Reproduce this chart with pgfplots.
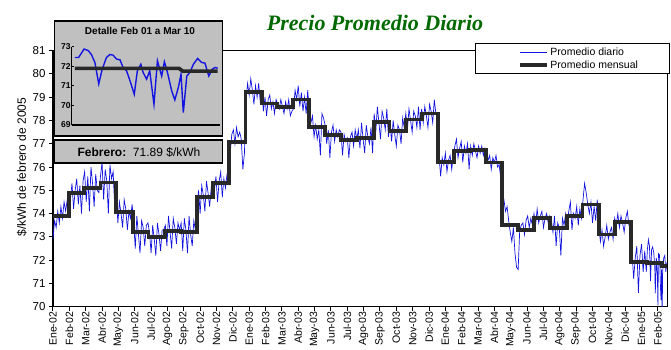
\documentclass[border=0pt]{standalone}
\usepackage{pgfplots}
\pgfplotsset{compat=1.18}
\usepackage{fontspec}
\setmainfont{Liberation Sans}
\newfontfamily\titlefont{Liberation Serif}
\definecolor{dailyblue}{RGB}{20,20,225}
\definecolor{monthgray}{RGB}{40,40,40}
\definecolor{boxgray}{RGB}{192,192,192}
\definecolor{titlegreen}{RGB}{0,105,0}
\begin{document}
\begin{tikzpicture}
\useasboundingbox (-53pt,-42.3pt) rectangle (618pt,306.7pt);
\begin{axis}[
  at={(0pt,0pt)}, anchor=south west,
  scale only axis, width=614.4pt, height=256pt,
  xmin=0, xmax=1165, ymin=70, ymax=81,
  xtick={0,31,...,1147},
  xticklabels={Ene-02,Feb-02,Mar-02,Abr-02,May-02,Jun-02,Jul-02,Ago-02,Sep-02,Oct-02,Nov-02,Dic-02,
               Ene-03,Feb-03,Mar-03,Abr-03,May-03,Jun-03,Jul-03,Ago-03,Sep-03,Oct-03,Nov-03,Dic-03,
               Ene-04,Feb-04,Mar-04,Abr-04,May-04,Jun-04,Jul-04,Ago-04,Sep-04,Oct-04,Nov-04,Dic-04,
               Ene-05,Feb-05},
  ytick={70,71,...,81},
  tick align=outside, tick pos=left,
  major tick length=4pt,
  every tick/.style={black, line width=1pt},
  axis line style={line width=1.2pt},
  xticklabel style={rotate=90, anchor=east, font=\fontsize{10.5}{12}\selectfont, inner sep=1pt},
  yticklabel style={font=\fontsize{11.5}{13}\selectfont},
  /pgf/number format/assume math mode=true,
  ylabel={\$/kWh de febrero de 2005},
  ylabel style={at={(axis description cs:-0.0505,0.545)}, anchor=center, font=\fontsize{12}{14}\selectfont},
  legend style={at={(axis description cs:1.005,1.03)}, anchor=north east, draw=black, line width=1pt,
                fill=white, font=\fontsize{10.5}{12}\selectfont, inner xsep=30pt, inner ysep=2pt},
  legend cell align=left,
]
\addplot[dailyblue, line width=0.7pt,
  legend image code/.code={\path (-12pt,0pt); \draw[dailyblue, line width=0.7pt] (0pt,0pt) -- (27pt,0pt);}]
coordinates {
(0,72.9)(3,73.7)(6,73.4)(9,74.1)(12,73.6)(15,74.3)(18,73.8)(21,74.5)(24,74.1)(27,74.6)(30,74.0)
(33,74.6)(36,75.3)(39,74.2)(42,75.0)(45,75.5)(48,74.4)(51,75.2)(54,74.0)(57,75.4)
(60,75.8)(63,74.5)(66,75.6)(69,74.1)(72,76.0)(75,75.3)(78,74.3)(81,75.7)(84,75.0)(87,74.9)
(90,75.6)(93,76.2)(96,74.6)(99,75.9)(102,75.4)(105,74.0)(108,76.1)(111,75.5)(114,75.8)(117,74.3)
(120,74.8)(123,73.6)(126,74.5)(129,74.0)(132,73.4)(135,74.6)(138,74.2)(141,73.3)(144,74.1)(147,73.8)(150,74.4)
(153,73.6)(156,72.5)(159,73.9)(162,73.1)(165,72.3)(168,73.7)(171,73.4)(174,72.6)(177,73.5)(180,73.6)
(183,73.2)(186,72.3)(189,73.5)(192,72.9)(195,72.2)(198,73.6)(201,73.1)(204,72.4)(207,73.3)(210,73.3)
(213,73.5)(216,72.6)(219,73.9)(222,73.2)(225,72.5)(228,73.8)(231,73.4)(234,72.7)(237,73.6)(240,73.3)
(243,73.6)(246,72.4)(249,73.8)(252,73.3)(255,72.3)(258,73.9)(261,73.1)(264,72.6)(267,73.7)(270,73.3)
(273,74.3)(276,75.0)(279,74.0)(282,75.2)(285,74.8)(288,74.1)(291,75.4)(294,74.9)(297,74.3)(300,75.1)(303,74.8)
(306,75.0)(309,75.6)(312,74.5)(315,75.4)(318,75.8)(321,74.7)(324,75.5)(327,75.1)(330,75.7)(333,75.7)
(336,76.6)(339,77.4)(342,77.6)(345,77.0)(348,77.7)(351,77.3)(354,77.5)(357,77.2)(360,75.9)(363,76.6)
(366,78.9)(369,79.6)(372,79.1)(375,79.8)(378,79.3)(381,78.7)(384,79.5)(387,79.0)(390,79.6)(393,78.8)
(396,79.2)(399,78.4)(402,79.0)(405,78.2)(408,78.9)(411,79.1)(414,78.5)(417,78.8)(420,78.3)(423,78.9)
(426,78.7)(429,78.5)(432,78.9)(435,78.6)(438,78.3)(441,78.8)(444,78.5)(447,78.9)(450,78.2)(453,78.4)
(456,78.5)(459,79.3)(462,78.9)(465,79.5)(468,78.6)(471,79.2)(474,78.4)(477,79.0)(480,78.3)(483,79.3)
(486,78.4)(489,77.9)(492,78.2)(495,77.3)(498,77.8)(501,77.2)(504,77.6)(507,76.5)(510,78.3)(513,78.1)
(516,77.8)(519,77.0)(522,77.6)(525,76.4)(528,77.5)(531,77.8)(534,77.1)(537,77.6)(540,77.3)(543,77.6)
(546,77.5)(549,76.5)(552,77.4)(555,77.1)(558,77.25)(561,76.4)(564,77.3)(567,77.5)(570,76.9)(573,77.6)(576,77.2)
(579,77.6)(582,76.8)(585,77.9)(588,77.2)(591,76.6)(594,77.8)(597,77.3)(600,77.0)(603,77.7)(606,76.6)
(609,78.3)(612,77.5)(615,78.6)(618,77.9)(621,77.2)(624,78.4)(627,78.1)(630,77.6)(633,78.5)(636,77.3)
(639,77.9)(642,77.1)(645,78.0)(648,77.4)(651,76.9)(654,77.8)(657,77.6)(660,77.0)(663,78.1)(666,77.7)
(669,78.3)(672,77.6)(675,78.5)(678,78.0)(681,77.5)(684,78.4)(687,78.2)(690,77.7)(693,78.6)(696,77.6)
(699,78.5)(702,77.9)(705,78.6)(708,78.2)(711,77.7)(714,78.7)(717,78.4)(720,77.9)(723,78.9)(726,78.3)(729,78.2)
(732,76.5)(735,75.6)(738,76.4)(741,76.1)(744,76.6)(747,75.8)(750,76.3)(753,76.5)(756,75.9)(759,76.5)
(762,76.9)(765,77.2)(768,76.4)(771,76.8)(774,77.1)(777,76.2)(780,76.9)(783,76.6)(786,77.0)(789,75.9)
(792,76.9)(795,76.5)(798,77.0)(801,76.7)(804,76.4)(807,76.9)(810,76.6)(813,76.9)(816,76.5)(819,76.8)
(822,76.6)(825,76.3)(828,76.5)(831,75.9)(834,76.4)(837,76.2)(840,76.5)(843,76.0)(846,76.1)(849,75.5)
(852,74.9)(855,74.6)(858,74.1)(861,74.3)(864,73.7)(867,73.2)(870,72.8)(873,73.4)(876,72.3)(879,71.7)
(882,71.6)(885,73.3)(888,73.5)(891,73.6)(894,73.1)(897,73.7)(900,73.9)(903,73.4)(906,73.8)(909,73.5)
(912,74.0)(915,73.5)(918,74.2)(921,73.6)(924,73.9)(927,74.1)(930,73.4)(933,73.8)(936,74.0)(939,73.6)(942,73.9)
(945,73.7)(948,73.2)(951,73.9)(954,72.6)(957,73.6)(960,73.4)(963,72.2)(966,73.8)(969,73.5)(972,74.0)
(975,73.6)(978,74.1)(981,74.5)(984,73.3)(987,74.0)(990,73.8)(993,74.3)(996,73.5)(999,74.2)(1002,73.8)
(1005,74.6)(1008,75.3)(1011,74.9)(1014,74.4)(1017,74.0)(1020,74.5)(1023,73.6)(1026,74.3)(1029,73.7)(1032,74.6)
(1035,73.4)(1038,72.8)(1041,73.3)(1044,72.6)(1047,73.0)(1050,73.5)(1053,72.9)(1056,73.2)(1059,73.4)(1062,72.9)
(1065,73.8)(1068,73.5)(1071,74.0)(1074,73.4)(1077,73.9)(1080,73.6)(1083,73.2)(1086,73.8)(1089,74.1)(1092,73.5)(1095,73.4)
(1098,72.3)(1101,71.2)(1104,72.1)(1107,72.6)(1110,70.6)(1113,72.2)(1116,72.7)(1119,71.5)(1122,72.4)(1125,71.5)
(1127,72.45)(1129,72.88)(1131,72.6)(1133,71.1)(1135,72.45)(1137,72.57)(1139,72.33)(1141,71.77)(1142,70.57)(1144,72.1)
(1146,71.34)(1147,70.06)(1148,72.28)(1150,72.23)(1152,70.74)(1153,70.28)(1154,71.6)
(1155,69.63)(1156,71.5)(1158,72.1)(1160,72.2)(1162,71.5)(1164,71.9)
};
\addlegendentry{Promedio diario}
\addplot[monthgray, line width=3.8pt, const plot,
  legend image code/.code={\path (-12pt,0pt); \draw[monthgray, line width=3.8pt] (0pt,0pt) -- (27pt,0pt);}]
coordinates {
(0,73.9)(31,74.87)(59,75.11)(90,75.34)(120,74.06)(151,73.22)(181,72.98)(212,73.25)(243,73.2)(273,74.72)(304,75.3)(334,77.08)
(365,79.23)(396,78.73)(424,78.58)(455,78.9)(485,77.73)(516,77.37)(546,77.15)(577,77.25)(608,77.94)(638,77.55)(669,78.04)(699,78.3)
(730,76.22)(761,76.7)(790,76.72)(821,76.2)(851,73.5)(882,73.29)(912,73.82)(943,73.39)(974,73.91)(1004,74.39)(1035,73.1)(1065,73.65)
(1096,71.93)(1127,71.89)(1155,71.75)(1165,71.75)
};
\addlegendentry{Promedio mensual}
\end{axis}
% title
\node[anchor=base, text=titlegreen, font=\titlefont\bfseries\itshape\fontsize{22}{26}\selectfont] at (322pt,276.7pt) {Precio Promedio Diario};
% inset boxes
\draw[line width=1.2pt, fill=boxgray] (1.5pt,170.7pt) rectangle (169.5pt,285.7pt);
\draw[line width=1.2pt, fill=boxgray] (1.5pt,143.7pt) rectangle (169.5pt,166.7pt);
\node[anchor=base, font=\bfseries\fontsize{10}{12}\selectfont] at (87pt,272pt) {Detalle Feb 01 a Mar 10};
\node[anchor=base, font=\fontsize{12}{14}\selectfont] at (86pt,150.2pt) {\textbf{Febrero:}\ \ 71.89 \$/kWh};
\begin{axis}[
  at={(18.7pt,181.7pt)}, anchor=south west,
  scale only axis, width=148.3pt, height=78.3pt,
  xmin=-0.8, xmax=37.6, ymin=69, ymax=73,
  axis lines=left, axis line style={-, line width=1.2pt},
  xtick=\empty, ytick={69,70,...,73},
  tick align=inside, major tick length=2pt,
  every tick/.style={black, line width=0.8pt},
  yticklabel style={font=\bfseries\fontsize{8.5}{10}\selectfont, inner sep=1pt},
  /pgf/number format/assume math mode=true,
]
\addplot[dailyblue, line width=1.4pt] coordinates {
(0,72.45)(1,72.45)(2.4,72.88)(3.5,72.8)(4.3,72.6)(5.2,72.2)(6.2,71.1)(7.1,71.85)(8.2,72.45)(9.1,72.6)
(9.9,72.57)(10.8,72.37)(11.7,72.33)(12.5,71.94)(13.4,71.77)(14.3,71.26)(15.4,70.57)(16.2,71.77)(17.1,72.1)(17.7,71.68)
(18.6,71.34)(19.4,71.77)(20.5,70.06)(21.4,72.28)(22,71.85)(22.5,71.5)(23.2,72.23)(24,71.68)(25.1,70.74)(25.9,70.28)
(26.8,70.91)(27.5,71.6)(28.1,69.63)(29,71.5)(29.8,71.68)(30.7,72.1)(31.8,72.4)(32.8,72.2)(33.7,72.16)(34.7,71.5)
(35.6,71.85)(36.3,71.94)(37,71.9)
};
\addplot[monthgray, line width=3.6pt] coordinates {(0,71.89)(27,71.89)(28,71.75)(37,71.75)};
\end{axis}
\end{tikzpicture}
\end{document}
